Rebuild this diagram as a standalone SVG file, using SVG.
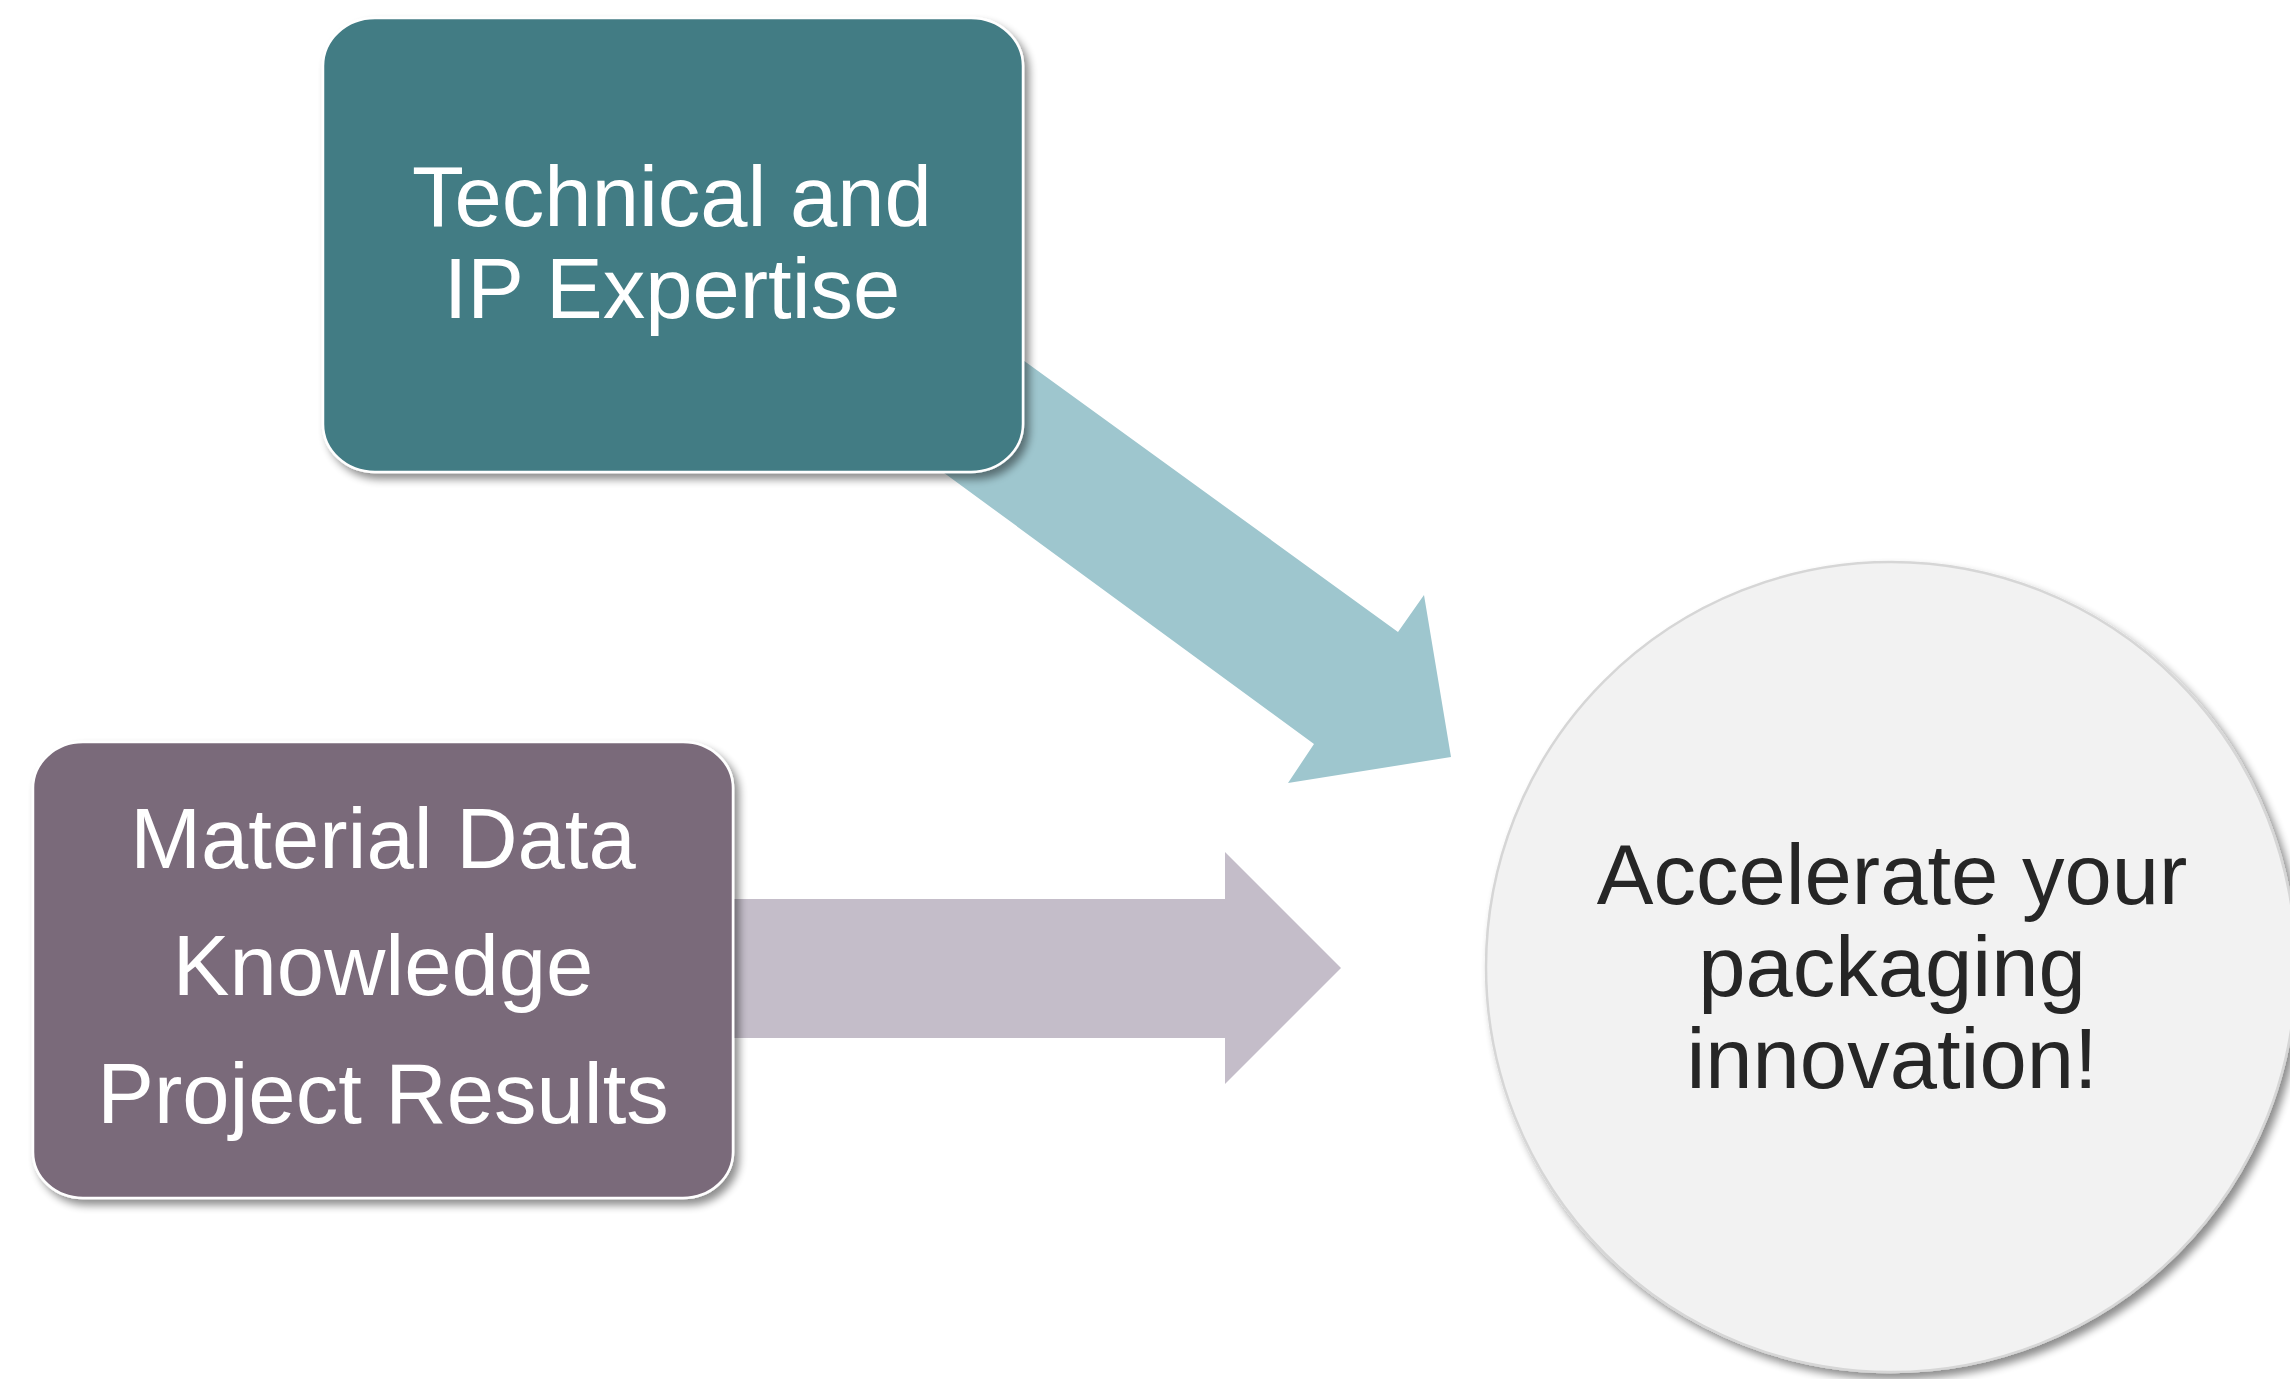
<svg xmlns="http://www.w3.org/2000/svg" width="2290" height="1379" viewBox="0 0 2290 1379">
  <style>
    .lbl { font-family: "Liberation Sans", Arial, sans-serif; font-size: 85px; text-anchor: middle; }
    .white { fill: #FFFFFF; }
    .dark { fill: #262626; }
    .box { stroke: #FFFFFF; stroke-width: 2.5; }
  </style>
  <defs>
    <filter id="shadow" x="-10%" y="-10%" width="125%" height="125%">
      <feGaussianBlur in="SourceAlpha" stdDeviation="4"/>
      <feOffset dx="5" dy="6" result="b"/>
      <feComponentTransfer><feFuncA type="linear" slope="0.45"/></feComponentTransfer>
      <feMerge><feMergeNode/><feMergeNode in="SourceGraphic"/></feMerge>
    </filter>
  </defs>
  <rect width="2290" height="1379" fill="#FFFFFF"/>

  <g id="connectors">
    <polygon points="863,244 1398,632 1424,595 1451,757 1288,783 1314,744 865,415" fill="#9EC6CE"/>
    <polygon points="700,899 1225,899 1225,852 1341,968 1225,1084 1225,1038 700,1038" fill="#C4BDC9"/>
  </g>

  <g id="node-technical">
    <rect class="box" x="323" y="18" width="700" height="454" rx="52" ry="48" fill="#437B84" filter="url(#shadow)"/>
    <text class="lbl white" x="672" y="226">Technical and</text>
    <text class="lbl white" x="672" y="318">IP Expertise</text>
  </g>

  <g id="node-material">
    <rect class="box" x="33" y="742" width="700" height="456" rx="50" ry="46" fill="#7A6A7A" filter="url(#shadow)"/>
    <text class="lbl white" x="383" y="868">Material Data</text>
    <text class="lbl white" x="383" y="995">Knowledge</text>
    <text class="lbl white" x="383" y="1123">Project Results</text>
  </g>

  <g id="node-accelerate">
    <circle cx="1891" cy="967" r="405" fill="#F2F2F2" stroke="#D6D6D6" stroke-width="2.5" filter="url(#shadow)"/>
    <text class="lbl dark" x="1892" y="904">Accelerate your</text>
    <text class="lbl dark" x="1892" y="996">packaging</text>
    <text class="lbl dark" x="1892" y="1088">innovation!</text>
  </g>
</svg>
